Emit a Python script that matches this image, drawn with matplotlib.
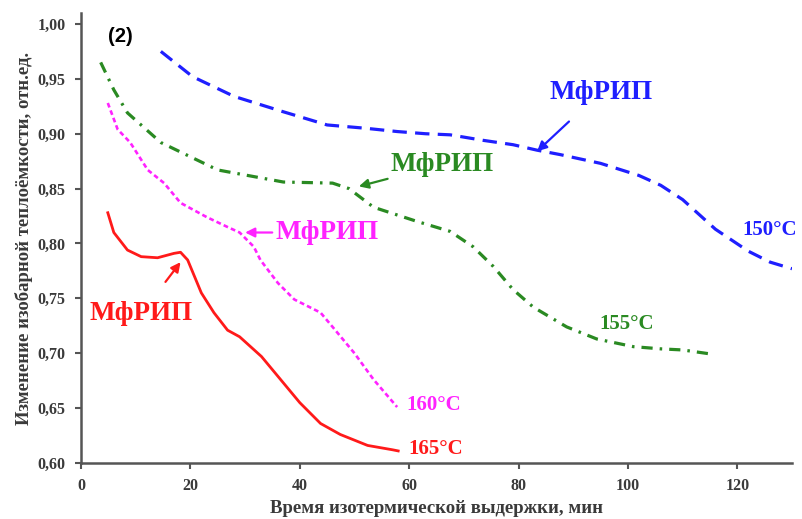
import matplotlib
matplotlib.use("Agg")
import matplotlib.pyplot as plt
from matplotlib.ticker import FuncFormatter

serif = ["Liberation Serif", "DejaVu Serif"]

# 150 C, blue dashed
t150 = [14.6, 20.4, 28, 37, 45, 52, 57.8, 63, 67.5, 73.5, 79, 83.4, 87.6, 95, 102, 106, 110, 116, 122, 126, 130]
c150 = [0.975, 0.952, 0.934, 0.920, 0.908, 0.905, 0.902, 0.900, 0.899, 0.894, 0.890, 0.885, 0.881, 0.873, 0.862, 0.853, 0.840, 0.813, 0.793, 0.783, 0.777]

# 155 C, green dash-dot
t155 = [3.6, 6, 8.5, 14.6, 25, 37, 46, 49, 53.5, 61.5, 67.5, 71.7, 75.4, 79, 82.7, 88.8, 94.3, 101, 106, 110, 115.6]
c155 = [0.965, 0.940, 0.919, 0.892, 0.867, 0.856, 0.855, 0.850, 0.833, 0.820, 0.811, 0.797, 0.779, 0.758, 0.742, 0.724, 0.713, 0.706, 0.704, 0.703, 0.699]

# 160 C, magenta dotted
t160 = [4.9, 6.7, 9, 12.2, 15.2, 18.2, 23, 26.8, 29, 31.6, 32.8, 36, 39, 43.8, 46, 50, 53.5, 57.8]
c160 = [0.928, 0.904, 0.892, 0.867, 0.855, 0.837, 0.824, 0.815, 0.810, 0.797, 0.785, 0.764, 0.749, 0.737, 0.724, 0.700, 0.676, 0.651]

# 165 C, red solid
t165 = [4.9, 6, 8.5, 11, 14, 17, 18.2, 19.5, 22, 24.3, 26.8, 29, 33, 36.5, 40, 43.8, 47.4, 52.4, 57, 58]
c165 = [0.828, 0.810, 0.794, 0.788, 0.787, 0.791, 0.792, 0.785, 0.755, 0.737, 0.721, 0.715, 0.697, 0.676, 0.655, 0.636, 0.626, 0.616, 0.612, 0.611]

blue = "#1f1fff"
green = "#2a8a22"
magenta = "#ff22ff"
red = "#ff1a1a"
axis_col = "#555555"
text_col = "#3a3a3a"

fig = plt.figure(figsize=(8.02, 5.19), dpi=100)
ax = fig.add_axes([81 / 802, 56 / 519, 711 / 802, 450 / 519])

ax.plot(t150, c150, color=blue, lw=2.3, linestyle=(0, (4.5, 2.6)))
ax.plot(t155, c155, color=green, lw=2.3, linestyle=(0, (3.5, 2.2, 0.8, 2.2)))
ax.plot(t160, c160, color=magenta, lw=1.9, linestyle=(0, (1.8, 1.2)))
ax.plot(t165, c165, color=red, lw=2.0)

ax.set_xlim(0, 130)
ax.set_ylim(0.6, 1.01)
ax.set_xticks([0, 20, 40, 60, 80, 100, 120])
ax.set_yticks([0.60, 0.65, 0.70, 0.75, 0.80, 0.85, 0.90, 0.95, 1.00])
ax.yaxis.set_major_formatter(FuncFormatter(lambda v, p: f"{v:.2f}".replace(".", ",")))

for s in ["top", "right"]:
    ax.spines[s].set_visible(False)
for s in ["left", "bottom"]:
    ax.spines[s].set_color(axis_col)
    ax.spines[s].set_linewidth(1.8)
ax.tick_params(direction="out", length=4, width=1.5, color=axis_col, pad=7,
               labelsize=11.5, labelcolor=text_col)
for lab in ax.get_xticklabels() + ax.get_yticklabels():
    lab.set_family(serif)
    lab.set_fontweight("bold")

ax.set_xlabel("Время изотермической выдержки, мин", family=serif, fontweight="bold",
              fontsize=13.5, color=text_col, labelpad=4)
ax.set_ylabel("Изменение изобарной теплоёмкости, отн.ед.", family=serif, fontweight="bold",
              fontsize=13.5, color=text_col, labelpad=3)

ax.text(4.9, 0.989, "(2)", family=["Liberation Sans", "DejaVu Sans"], fontweight="bold",
        fontsize=14.5, color="black", ha="left", va="center")

lab_kw = dict(family=serif, fontweight="bold", fontsize=19.5, ha="center", va="center")
ax.annotate("МфРИП", xy=(83.4, 0.884), xytext=(95, 0.938), color=blue,
            arrowprops=dict(arrowstyle="-|>", color=blue, lw=1.6, shrinkA=15, shrinkB=0,
                            mutation_scale=14), **lab_kw)
ax.annotate("МфРИП", xy=(50.8, 0.852), xytext=(66, 0.872), color=green,
            arrowprops=dict(arrowstyle="-|>", color=green, lw=1.6, shrinkA=38, shrinkB=0,
                            mutation_scale=14), **lab_kw)
ax.annotate("МфРИП", xy=(30, 0.810), xytext=(44.9, 0.810), color=magenta,
            arrowprops=dict(arrowstyle="-|>", color=magenta, lw=1.6, shrinkA=40, shrinkB=0,
                            mutation_scale=14), **lab_kw)
ax.annotate("МфРИП", xy=(18.2, 0.783), xytext=(11, 0.736), color=red,
            arrowprops=dict(arrowstyle="-|>", color=red, lw=1.6, shrinkA=15, shrinkB=0,
                            mutation_scale=14), **lab_kw)

t_kw = dict(family=serif, fontweight="bold", fontsize=15, ha="center", va="center")
ax.text(126.0, 0.812, "150°C", color=blue, **t_kw)
ax.text(99.8, 0.727, "155°C", color=green, **t_kw)
ax.text(64.5, 0.653, "160°C", color=magenta, **t_kw)
ax.text(64.8, 0.613, "165°C", color=red, **t_kw)

fig.savefig("out.png", dpi=100)
